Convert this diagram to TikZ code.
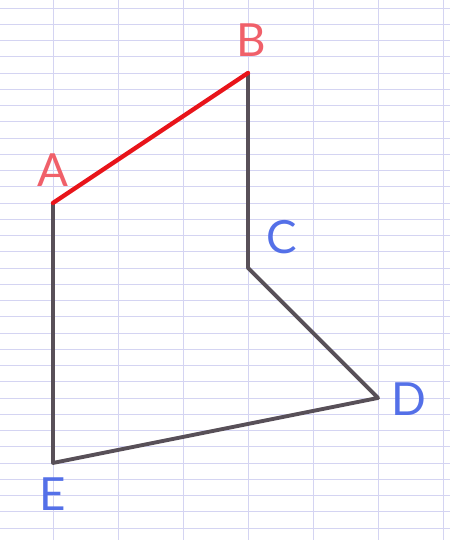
\documentclass[tikz,border=0pt]{standalone}
\usepackage{fontspec}
\setmainfont{Lato}
\definecolor{gridblue}{RGB}{212,212,242}
\definecolor{pencil}{RGB}{88,80,88}
\definecolor{redline}{RGB}{232,20,26}
\definecolor{redlabel}{RGB}{240,96,106}
\definecolor{bluelabel}{RGB}{84,112,232}
\tikzset{
    gridline/.style={gridblue, line width=0.8pt},
    side/.style={pencil, line width=3.4pt, line cap=round, line join=round},
    redside/.style={redline, line width=3.8pt, line cap=round},
    lbl/.style={inner sep=0pt, font=\fontsize{40}{40}\selectfont},
}
\begin{document}
\begin{tikzpicture}[x=0.5cm,y=0.5cm]
        \useasboundingbox (-3.26,-4.74) rectangle (24.43,28.49);
        \fill[white] (-3.26,-4.74) rectangle (24.43,28.49);
        % grid paper
        \foreach \y in {-4,...,28}
            \draw[gridline] (-3.26,\y) -- (24.43,\y);
        \foreach \x in {0,4,...,24}
            \draw[gridline] (\x,-4.74) -- (\x,28.49);
        % vertices
        \coordinate (A) at (0,16);
        \coordinate (B) at (12,24);
        \coordinate (C) at (12,12);
        \coordinate (D) at (20,4);
        \coordinate (E) at (0,0);
        % sides
        \draw[side] (B) -- (C) -- (D) -- (E) -- (A);
        \draw[redside] (A) -- (B);
        % labels
        \node[lbl, text=redlabel] (labA) at (0,18) {A};
        \node[lbl, text=redlabel] (labB) at (12.2,26) {B};
        \node[lbl, text=bluelabel] (labC) at (14.1,13.9) {C};
        \node[lbl, text=bluelabel] (labD) at (21.9,3.9) {D};
        \node[lbl, text=bluelabel] (labE) at (0,-1.94) {E};
    \end{tikzpicture}
\end{document}
